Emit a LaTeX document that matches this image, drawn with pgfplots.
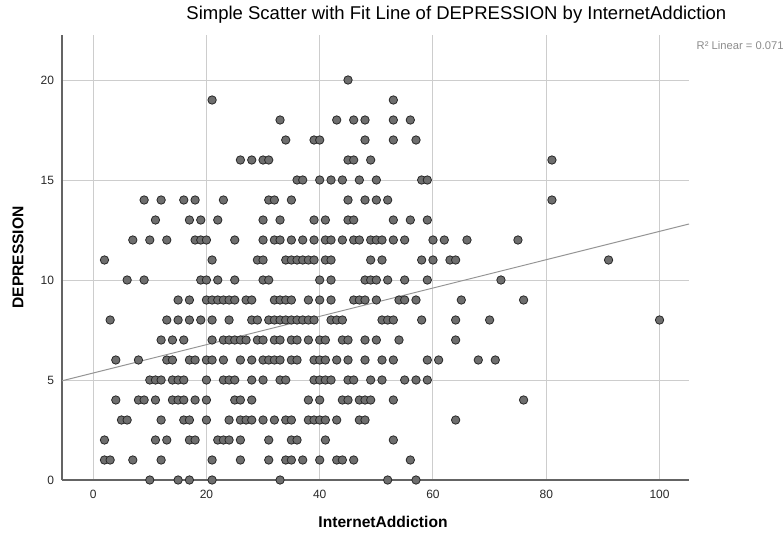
\documentclass[border=0pt]{standalone}
\usepackage{fontspec}
\setmainfont{Liberation Sans}
\usepackage{pgfplots}
\pgfplotsset{compat=1.18}
\definecolor{gridc}{RGB}{205,205,205}
\definecolor{axc}{RGB}{100,100,100}
\definecolor{ptfill}{RGB}{110,110,110}
\definecolor{ptdraw}{RGB}{40,40,40}
\definecolor{fitc}{RGB}{150,150,150}
\definecolor{tickc}{RGB}{40,40,40}
\definecolor{r2c}{RGB}{140,140,140}
\begin{document}
\begin{tikzpicture}
\useasboundingbox (-31pt,-26pt) rectangle (361pt,240pt);
\begin{axis}[
  scale only axis, width=313.5pt, height=222.5pt,
  xmin=-5.5, xmax=105.2, ymin=0, ymax=22.25,
  axis x line*=bottom, axis y line*=left,
  axis line style={axc, line width=0.8pt},
  xtick={0,20,...,100}, ytick={0,5,...,20},
  grid=major, major grid style={gridc, line width=0.5pt},
  major tick length=0pt,
  tick label style={font=\fontsize{6}{7}\selectfont, text=tickc},
  xticklabel style={yshift=-1.5pt},
  yticklabel style={xshift=-0.5pt},
  /pgf/number format/assume math mode=true,
  xlabel={InternetAddiction}, ylabel={DEPRESSION},
  every axis x label/.style={at={(axis description cs:0.512,-0.0944)}, anchor=center, font=\fontsize{7.8}{9}\selectfont\bfseries},
  every axis y label/.style={at={(axis description cs:-0.0702,0.5)}, anchor=center, rotate=90, font=\fontsize{7.8}{9}\selectfont\bfseries},
  clip=false,
]
\addplot[only marks, mark=*, mark size=2.1pt, mark options={fill=ptfill, draw=ptdraw, line width=0.4pt}] coordinates {
(45,20)
(21,19) (53,19)
(33,18) (43,18) (46,18) (48,18) (53,18) (56,18)
(34,17) (39,17) (40,17) (48,17) (53,17) (57,17)
(26,16) (28,16) (30,16) (31,16) (45,16) (46,16) (49,16) (81,16)
(36,15) (37,15) (40,15) (42,15) (44,15) (47,15) (50,15) (58,15) (59,15)
(9,14) (12,14) (16,14) (18,14) (23,14) (31,14) (32,14) (35,14) (45,14) (48,14) (50,14) (52,14) (81,14)
(11,13) (17,13) (19,13) (22,13) (30,13) (33,13) (39,13) (41,13) (45,13) (46,13) (53,13) (56,13) (59,13)
(7,12) (10,12) (13,12) (18,12) (19,12) (20,12) (25,12) (30,12) (32,12) (33,12) (35,12) (37,12) (39,12) (41,12) (42,12) (44,12) (46,12) (47,12) (49,12) (50,12) (51,12) (53,12) (55,12) (60,12) (62,12) (66,12) (75,12)
(2,11) (21,11) (29,11) (30,11) (34,11) (35,11) (36,11) (37,11) (38,11) (39,11) (41,11) (42,11) (49,11) (51,11) (58,11) (60,11) (63,11) (64,11) (91,11)
(6,10) (9,10) (19,10) (20,10) (22,10) (25,10) (30,10) (31,10) (40,10) (42,10) (48,10) (49,10) (50,10) (52,10) (55,10) (59,10) (72,10)
(15,9) (17,9) (20,9) (21,9) (22,9) (23,9) (24,9) (25,9) (27,9) (28,9) (32,9) (33,9) (34,9) (35,9) (38,9) (40,9) (42,9) (46,9) (47,9) (48,9) (50,9) (54,9) (55,9) (57,9) (65,9) (76,9)
(3,8) (13,8) (15,8) (17,8) (19,8) (21,8) (24,8) (28,8) (29,8) (31,8) (32,8) (33,8) (34,8) (35,8) (36,8) (37,8) (38,8) (39,8) (42,8) (43,8) (44,8) (51,8) (52,8) (53,8) (58,8) (64,8) (70,8) (100,8)
(12,7) (14,7) (16,7) (21,7) (23,7) (24,7) (25,7) (26,7) (27,7) (29,7) (30,7) (32,7) (33,7) (35,7) (36,7) (38,7) (40,7) (41,7) (44,7) (45,7) (48,7) (50,7) (54,7) (64,7)
(4,6) (8,6) (13,6) (14,6) (17,6) (18,6) (20,6) (21,6) (23,6) (26,6) (28,6) (30,6) (31,6) (32,6) (33,6) (35,6) (36,6) (39,6) (40,6) (41,6) (43,6) (45,6) (48,6) (51,6) (53,6) (59,6) (61,6) (68,6) (71,6)
(10,5) (11,5) (12,5) (14,5) (15,5) (16,5) (20,5) (23,5) (24,5) (25,5) (28,5) (30,5) (33,5) (34,5) (39,5) (40,5) (41,5) (42,5) (45,5) (46,5) (49,5) (51,5) (55,5) (57,5) (59,5)
(4,4) (8,4) (9,4) (11,4) (14,4) (15,4) (16,4) (18,4) (20,4) (25,4) (26,4) (28,4) (38,4) (40,4) (44,4) (45,4) (47,4) (48,4) (49,4) (53,4) (76,4)
(5,3) (6,3) (12,3) (16,3) (17,3) (20,3) (24,3) (26,3) (27,3) (28,3) (30,3) (32,3) (34,3) (35,3) (38,3) (39,3) (40,3) (41,3) (43,3) (47,3) (48,3) (64,3)
(2,2) (11,2) (13,2) (17,2) (18,2) (22,2) (23,2) (24,2) (26,2) (31,2) (35,2) (36,2) (41,2) (53,2)
(2,1) (3,1) (7,1) (12,1) (21,1) (26,1) (31,1) (34,1) (35,1) (37,1) (40,1) (43,1) (44,1) (46,1) (56,1)
(10,0) (15,0) (17,0) (21,0) (33,0) (52,0) (57,0)
};
\addplot[fitc, line width=0.5pt, no marks] coordinates {(-5.5,4.96) (105.2,12.80)};
\node[font=\fontsize{9.25}{11}\selectfont, text=black] at (axis description cs:0.629,1.045) {Simple Scatter with Fit Line of DEPRESSION by InternetAddiction};
\node[anchor=east, inner sep=0pt, font=\fontsize{5.6}{7}\selectfont, text=r2c] at (axis description cs:1.1515,0.9775) {R² Linear = 0.071};
\end{axis}
\end{tikzpicture}
\end{document}
